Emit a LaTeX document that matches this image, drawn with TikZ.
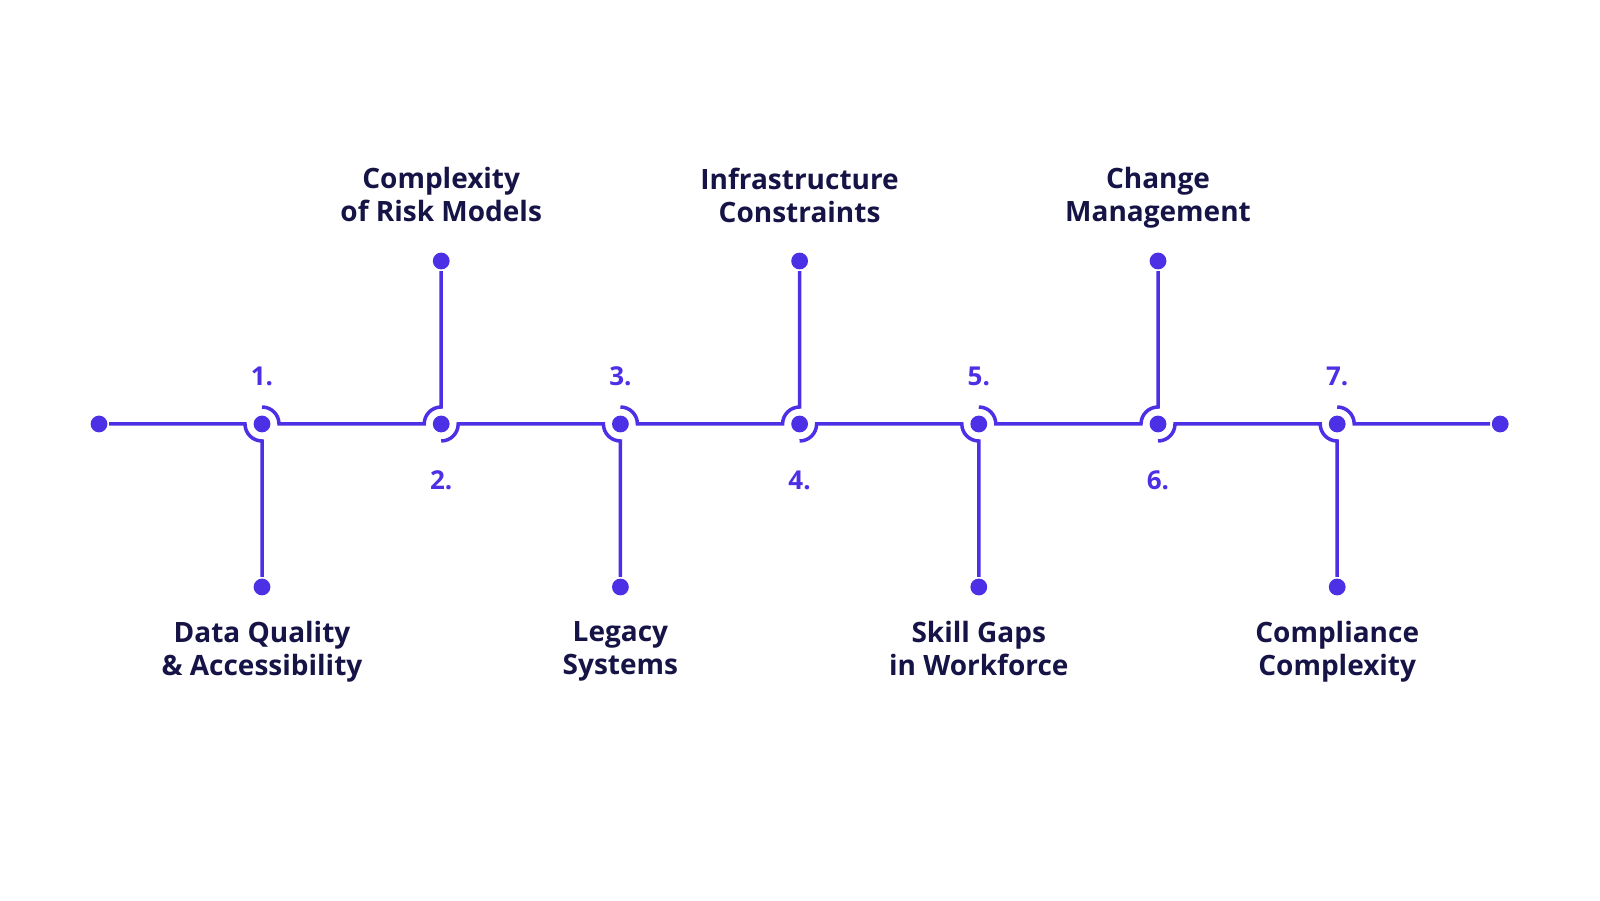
\documentclass[tikz,border=0pt]{standalone}
\usepackage{fontspec}
\setmainfont{Open Sans}
\usetikzlibrary{positioning}
\definecolor{linecol}{RGB}{76,48,230}
\definecolor{textcol}{RGB}{22,20,70}

\begin{document}
\begin{tikzpicture}[x=0.5pt,y=0.5pt,on grid,line width=1.75pt,draw=linecol,
  dot/.style={circle,fill=linecol,draw=none,inner sep=0pt,minimum size=8.4pt},
  num/.style={text=linecol,font=\bfseries\fontsize{13}{15}\selectfont},
  lbl/.style={text=textcol,align=center,font=\bfseries\fontsize{14}{16.5}\selectfont,
    execute at begin node=\strut,execute at end node=\strut}]
  \useasboundingbox (0,0) rectangle (1600,900);

  \node[dot] (j1) at (262,476) {};
  \node[dot] (j2) [right=89.6pt of j1] {};
  \node[dot] (j3) [right=89.6pt of j2] {};
  \node[dot] (j4) [right=89.6pt of j3] {};
  \node[dot] (j5) [right=89.6pt of j4] {};
  \node[dot] (j6) [right=89.6pt of j5] {};
  \node[dot] (j7) [right=89.6pt of j6] {};
  \node[dot] (e0) [left=81.5pt of j1] {};
  \node[dot] (e8) [right=81.5pt of j7] {};

  \node[dot] (t1) [below=81.5pt of j1] {};
  \node[dot] (t2) [above=81.5pt of j2] {};
  \node[dot] (t3) [below=81.5pt of j3] {};
  \node[dot] (t4) [above=81.5pt of j4] {};
  \node[dot] (t5) [below=81.5pt of j5] {};
  \node[dot] (t6) [above=81.5pt of j6] {};
  \node[dot] (t7) [below=81.5pt of j7] {};

  \node[num] (n1) [above=24pt of j1] {1.};
  \node[num] (n2) [below=28pt of j2] {2.};
  \node[num] (n3) [above=24pt of j3] {3.};
  \node[num] (n4) [below=28pt of j4] {4.};
  \node[num] (n5) [above=24pt of j5] {5.};
  \node[num] (n6) [below=28pt of j6] {6.};
  \node[num] (n7) [above=24pt of j7] {7.};

  \node[lbl] (l1) [below=33.2pt of t1] {Data Quality\\\& Accessibility};
  \node[lbl] (l2) [above=30.6pt of t2] {Complexity\\of Risk Models};
  \node[lbl] (l3) [below=33.2pt of t3] {Legacy\\Systems};
  \node[lbl] (l4) [above=30.6pt of t4] {Infrastructure\\Constraints};
  \node[lbl] (l5) [below=33.2pt of t5] {Skill Gaps\\in Workforce};
  \node[lbl] (l6) [above=30.6pt of t6] {Change\\Management};
  \node[lbl] (l7) [below=33.2pt of t7] {Compliance\\Complexity};

  % main line, bending round each junction
  \draw (e0) -- ([xshift=-8.5pt]j1.center) arc[start angle=180,end angle=270,radius=8.5pt] -- (t1);
  \draw ([yshift=8.5pt]j1.center) arc[start angle=90,end angle=0,radius=8.5pt]
     -- ([xshift=-8.5pt]j2.center) arc[start angle=180,end angle=90,radius=8.5pt] -- (t2);
  \draw ([yshift=-8.5pt]j2.center) arc[start angle=270,end angle=360,radius=8.5pt]
     -- ([xshift=-8.5pt]j3.center) arc[start angle=180,end angle=270,radius=8.5pt] -- (t3);
  \draw ([yshift=8.5pt]j3.center) arc[start angle=90,end angle=0,radius=8.5pt]
     -- ([xshift=-8.5pt]j4.center) arc[start angle=180,end angle=90,radius=8.5pt] -- (t4);
  \draw ([yshift=-8.5pt]j4.center) arc[start angle=270,end angle=360,radius=8.5pt]
     -- ([xshift=-8.5pt]j5.center) arc[start angle=180,end angle=270,radius=8.5pt] -- (t5);
  \draw ([yshift=8.5pt]j5.center) arc[start angle=90,end angle=0,radius=8.5pt]
     -- ([xshift=-8.5pt]j6.center) arc[start angle=180,end angle=90,radius=8.5pt] -- (t6);
  \draw ([yshift=-8.5pt]j6.center) arc[start angle=270,end angle=360,radius=8.5pt]
     -- ([xshift=-8.5pt]j7.center) arc[start angle=180,end angle=270,radius=8.5pt] -- (t7);
  \draw ([yshift=8.5pt]j7.center) arc[start angle=90,end angle=0,radius=8.5pt] -- (e8);
\end{tikzpicture}
\end{document}
